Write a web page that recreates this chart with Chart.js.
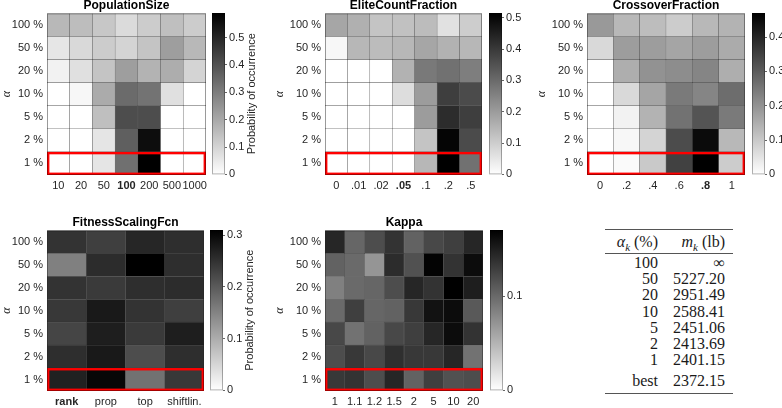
<!DOCTYPE html>
<html lang="en">
<head>
<meta charset="UTF-8">
<title>GA parameter heatmaps</title>
<script src="https://cdn.jsdelivr.net/npm/chart.js@4.4.0/dist/chart.umd.min.js"></script>
<style>
  body { margin: 0; background: #fff; }
  #page { position: relative; width: 782px; height: 408px; overflow: hidden; }
  canvas { position: absolute; }
  #tbl { position: absolute; left: 605px; top: 0; width: 128px; height: 408px;
         font-family: 'Liberation Serif', 'DejaVu Serif', serif; font-size: 16px; color: #1a1a1a; }
  #tbl .rule { position: absolute; left: 0; width: 128px; background: #555; }
  #tbl .row { position: absolute; left: 0; width: 128px; height: 16px; line-height: 16px; }
  #tbl .c1, #tbl .c2 { position: absolute; top: 0; white-space: nowrap; }
  #tbl .c1 { right: 75px; }
  #tbl .c2 { right: 8px; }
</style>
</head>
<body>
<div id="page">
  <div id="tbl"></div>
</div>

<script>
  // rows of every heatmap, top to bottom
  const rowLabels = ['100 %', '50 %', '20 %', '10 %', '5 %', '2 %', '1 %'];

  // PopulationSize
  const popLabels = ['10', '20', '50', '100', '200', '500', '1000'];
  const popProb = [
    [0.165, 0.153, 0.130, 0.083, 0.118, 0.148, 0.118],
    [0.059, 0.089, 0.118, 0.100, 0.136, 0.224, 0.165],
    [0.030, 0.071, 0.136, 0.224, 0.177, 0.189, 0.100],
    [0.000, 0.018, 0.195, 0.342, 0.325, 0.071, 0.000],
    [0.000, 0.000, 0.148, 0.413, 0.413, 0.000, 0.000],
    [0.000, 0.000, 0.060, 0.370, 0.560, 0.000, 0.000],
    [0.000, 0.000, 0.060, 0.330, 0.590, 0.000, 0.000]
  ];

  // EliteCountFraction
  const eliteLabels = ['0', '.01', '.02', '.05', '.1', '.2', '.5'];
  const eliteProb = [
    [0.180, 0.160, 0.120, 0.125, 0.135, 0.060, 0.100],
    [0.016, 0.146, 0.135, 0.146, 0.180, 0.156, 0.146],
    [0.000, 0.000, 0.000, 0.156, 0.270, 0.286, 0.260],
    [0.000, 0.000, 0.000, 0.068, 0.200, 0.390, 0.364],
    [0.000, 0.000, 0.000, 0.000, 0.200, 0.426, 0.390],
    [0.000, 0.000, 0.000, 0.000, 0.120, 0.505, 0.364],
    [0.000, 0.000, 0.000, 0.000, 0.146, 0.515, 0.286]
  ];

  // CrossoverFraction
  const crossLabels = ['0', '.2', '.4', '.6', '.8', '1'];
  const crossProb = [
    [0.188, 0.130, 0.122, 0.094, 0.130, 0.141],
    [0.070, 0.180, 0.180, 0.165, 0.180, 0.155],
    [0.000, 0.150, 0.200, 0.210, 0.225, 0.150],
    [0.000, 0.070, 0.165, 0.245, 0.225, 0.270],
    [0.000, 0.024, 0.141, 0.260, 0.315, 0.245],
    [0.000, 0.014, 0.080, 0.330, 0.450, 0.130],
    [0.000, 0.010, 0.100, 0.350, 0.470, 0.094]
  ];

  // FitnessScalingFcn
  const fitLabels = ['rank', 'prop', 'top', 'shiftlin.'];
  const fitProb = [
    [0.248, 0.233, 0.264, 0.254],
    [0.155, 0.257, 0.310, 0.254],
    [0.248, 0.239, 0.254, 0.257],
    [0.242, 0.279, 0.248, 0.233],
    [0.226, 0.273, 0.239, 0.273],
    [0.254, 0.279, 0.217, 0.254],
    [0.270, 0.301, 0.171, 0.242]
  ];

  // Kappa
  const kappaLabels = ['1', '1.1', '1.2', '1.5', '2', '5', '10', '20'];
  const kappaProb = [
    [0.145, 0.102, 0.119, 0.136, 0.105, 0.122, 0.128, 0.145],
    [0.105, 0.099, 0.071, 0.141, 0.116, 0.168, 0.136, 0.162],
    [0.085, 0.099, 0.102, 0.119, 0.145, 0.136, 0.170, 0.150],
    [0.099, 0.128, 0.102, 0.105, 0.133, 0.158, 0.162, 0.111],
    [0.122, 0.094, 0.105, 0.122, 0.128, 0.145, 0.162, 0.136],
    [0.119, 0.133, 0.122, 0.139, 0.133, 0.133, 0.145, 0.094],
    [0.133, 0.136, 0.119, 0.145, 0.105, 0.128, 0.116, 0.119]
  ];

  // table on the right
  const alphaK = ['100', '50', '20', '10', '5', '2', '1', 'best'];
  const mK = ['\u221E', '5227.20', '2951.49', '2588.41', '2451.06', '2413.69', '2401.15', '2372.15'];

  Chart.defaults.font.family = "'Liberation Sans', Arial, sans-serif";
  Chart.defaults.color = '#262626';
  Chart.defaults.animation = false;

  const page = document.getElementById('page');

  function makeCanvas(left, top, w, h) {
    const cv = document.createElement('canvas');
    cv.width = w; cv.height = h;
    cv.style.left = left + 'px'; cv.style.top = top + 'px';
    cv.style.width = w + 'px'; cv.style.height = h + 'px';
    page.appendChild(cv);
    return cv;
  }

  function gray(v, cmax) {
    const g = Math.round(255 * (1 - v / cmax));
    return 'rgb(' + g + ',' + g + ',' + g + ')';
  }

  // thin frame round the plot area
  const frame = {
    id: 'frame',
    afterDraw(chart, args, opts) {
      const a = chart.chartArea, ctx = chart.ctx;
      ctx.save();
      ctx.strokeStyle = opts.color || 'rgba(0,0,0,0.35)';
      ctx.lineWidth = 1;
      ctx.strokeRect(a.left + 0.5, a.top + 0.5, a.width - 1, a.height - 1);
      ctx.restore();
    }
  };

  // red box round the 1 % row
  const redBox = {
    id: 'redBox',
    afterDatasetsDraw(chart) {
      const { ctx, chartArea, scales: { y } } = chart;
      const top = y.getPixelForValue(1), bot = y.getPixelForValue(0);
      ctx.save();
      ctx.strokeStyle = '#f00';
      ctx.lineWidth = 2.4;
      ctx.strokeRect(chartArea.left + 1.2, top + 1.2, chartArea.width - 2.4, bot - top - 2.4);
      ctx.restore();
    }
  };

  // vertical colorbar label, reading bottom to top
  const cbLabel = {
    id: 'cbLabel',
    afterDraw(chart, args, opts) {
      if (!opts.text) return;
      const a = chart.chartArea, ctx = chart.ctx;
      ctx.save();
      ctx.translate(a.right + opts.offset, (a.top + a.bottom) / 2);
      ctx.rotate(-Math.PI / 2);
      ctx.font = "11px 'Liberation Sans', Arial, sans-serif";
      ctx.fillStyle = '#262626';
      ctx.textAlign = 'center';
      ctx.textBaseline = 'middle';
      ctx.fillText(opts.text, 0, 0);
      ctx.restore();
    }
  };

  function heatmap(cv, title, xLabels, probs, boldIdx, yAxisW) {
    const cmax = Math.max(...probs.flat());
    const datasets = [];
    for (let r = probs.length - 1; r >= 0; r--) {
      datasets.push({
        data: xLabels.map(() => 1),
        backgroundColor: probs[r].map(v => gray(v, cmax)),
        borderColor: 'rgba(20,20,20,0.55)',
        borderWidth: 0.5,
        borderSkipped: false,
        barPercentage: 1,
        categoryPercentage: 1
      });
    }
    new Chart(cv, {
      type: 'bar',
      data: { labels: xLabels, datasets: datasets },
      plugins: [redBox, frame],
      options: {
        responsive: false,
        layout: { padding: { right: 8 } },
        plugins: {
          legend: { display: false },
          tooltip: { enabled: false },
          title: {
            display: true, text: title, fullSize: false, color: '#000',
            font: { size: 12, weight: 'bold' }, padding: { top: 0, bottom: 1 }
          }
        },
        scales: {
          x: {
            stacked: true,
            grid: { display: false, drawTicks: false },
            border: { display: false },
            ticks: {
              autoSkip: false, maxRotation: 0, padding: 4,
              font: c => ({ size: 11, weight: c.index === boldIdx ? 'bold' : 'normal' })
            },
            afterFit: s => { s.height = 20; }
          },
          y: {
            stacked: true, min: 0, max: rowLabels.length,
            grid: { display: false, drawTicks: false },
            border: { display: false },
            afterBuildTicks: s => { s.ticks = rowLabels.map((_, i) => ({ value: i + 0.5 })); },
            ticks: {
              padding: 4, font: { size: 11 },
              callback: v => rowLabels[rowLabels.length - 1 - Math.floor(v)]
            },
            title: {
              display: true, text: '\u03B1', padding: 0,
              font: { family: "'Liberation Serif', serif", style: 'italic', size: 12 }
            },
            afterFit: s => { s.width = yAxisW; }
          }
        }
      }
    });
  }

  function colorbar(cv, probs, label) {
    const cmax = Math.max(...probs.flat());
    new Chart(cv, {
      type: 'bar',
      data: {
        labels: [''],
        datasets: [{
          data: [[0, cmax]],
          backgroundColor: c => {
            const a = c.chart.chartArea;
            if (!a) return '#888';
            const g = c.chart.ctx.createLinearGradient(0, a.bottom, 0, a.top);
            g.addColorStop(0, '#fff');
            g.addColorStop(1, '#000');
            return g;
          },
          borderWidth: 0, barPercentage: 1, categoryPercentage: 1
        }]
      },
      plugins: [frame, cbLabel],
      options: {
        responsive: false,
        layout: { padding: { top: 13, bottom: 8 } },
        plugins: {
          legend: { display: false },
          tooltip: { enabled: false },
          frame: { color: 'rgba(0,0,0,0.3)' },
          cbLabel: { text: label, offset: 27 }
        },
        scales: {
          x: { display: false },
          y: {
            position: 'right', min: 0, max: cmax,
            grid: { drawOnChartArea: false, tickLength: 2, color: '#666' },
            border: { display: false },
            ticks: { stepSize: 0.1, includeBounds: false, padding: 2, font: { size: 11 } },
            afterFit: s => { s.width = 40; }
          }
        }
      }
    });
  }

  // top row
  heatmap(makeCanvas(0, -2, 214, 197), 'PopulationSize', popLabels, popProb, 3, 47);
  colorbar(makeCanvas(212, 0, 53, 183), popProb, 'Probability of occurrence');
  heatmap(makeCanvas(273, -2, 217, 197), 'EliteCountFraction', eliteLabels, eliteProb, 3, 52);
  colorbar(makeCanvas(489, 0, 53, 183), eliteProb, '');
  heatmap(makeCanvas(535, -2, 218, 197), 'CrossoverFraction', crossLabels, crossProb, 4, 52);
  colorbar(makeCanvas(752, 0, 53, 183), crossProb, '');

  // bottom row
  heatmap(makeCanvas(0, 215, 212, 196), 'FitnessScalingFcn', fitLabels, fitProb, 0, 47);
  colorbar(makeCanvas(210, 217, 53, 182), fitProb, 'Probability of occurrence');
  heatmap(makeCanvas(273, 215, 218, 196), 'Kappa', kappaLabels, kappaProb, -1, 52);
  colorbar(makeCanvas(490, 217, 53, 182), kappaProb, '');

  // table
  const tbl = document.getElementById('tbl');
  function rule(y, h) {
    const d = document.createElement('div');
    d.className = 'rule';
    d.style.top = y + 'px'; d.style.height = h + 'px';
    tbl.appendChild(d);
  }
  function row(cy, a, b) {
    const d = document.createElement('div');
    d.className = 'row';
    d.style.top = (cy - 8) + 'px';
    d.innerHTML = '<span class="c1">' + a + '</span><span class="c2">' + b + '</span>';
    tbl.appendChild(d);
  }
  rule(228.5, 1.3);
  row(242, '<i>\u03B1</i><sub style="font-size:11px"><i>k</i></sub> (%)', '<i>m</i><sub style="font-size:11px"><i>k</i></sub> (lb)');
  rule(252.5, 0.8);
  alphaK.forEach((a, i) => {
    const cy = i < alphaK.length - 1 ? 263 + i * 16.2 : 381;
    row(cy, a, mK[i]);
  });
  rule(392.5, 1.3);
</script>
</body>
</html>
